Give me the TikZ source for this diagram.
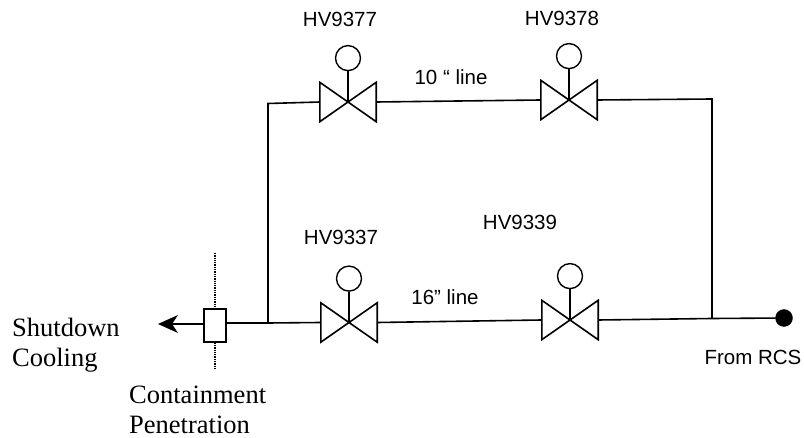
\documentclass[tikz,border=0pt]{standalone}
\usepackage{fontspec}
\setmainfont{Liberation Serif}
\setsansfont{Liberation Sans}
\usetikzlibrary{arrows.meta,positioning,calc}
\begin{document}
\begin{tikzpicture}[x=1pt, y=-1pt, node distance=11pt and 5pt, >={Stealth[length=20pt,width=18pt,inset=6pt]},
		valve/.style={draw=none, rectangle, minimum width=56pt, minimum height=39pt, inner sep=0pt},
		head/.style={draw=black, circle, line width=1.4pt, minimum size=25pt, inner sep=0pt},
		tag/.style={draw=none, inner sep=0pt, font=\sffamily\fontsize{20.5}{22}\selectfont},
		sname/.style={draw=none, inner sep=0pt, align=left, font=\fontsize{26.5}{30}\selectfont},
		pipe/.style={line width=1.6pt, color=black}
		]
		\useasboundingbox (0,0) rectangle (804,438);
		
		\node[valve](v1) at (348,102) {};
		\node[valve](v2) at (569,100) {};
		\node[valve](v3) at (349,322.5) {};
		\node[valve](v4) at (570,320) {};
		
		\node[head](c1) [above=of v1] {};
		\node[head](c2) [above=of v2] {};
		\node[head](c3) [above=of v3] {};
		\node[head](c4) [above=of v4] {};
		
		\node[tag](t1) at (340,19) {HV9377};
		\node[tag](t2) at (562,18) {HV9378};
		\node[tag](t3) at (341,237) {HV9337};
		\node[tag](t4) at (520,222) {HV9339};
		\node[tag](l1) at (451,77) {10 “ line};
		\node[tag](l2) at (445,297) {16” line};
		\node[tag](rcs) at (753,357) {From RCS};
		
		\node[draw=black, rectangle, line width=1.4pt, minimum width=22pt, minimum height=33pt, inner sep=0pt](pen) at (215,325.5) {};
		\node[draw=black, fill=black, circle, minimum size=17pt, inner sep=0pt](src) at (784,318) {};
		\node[sname, anchor=west](out) at (12,345) {Shutdown\\Cooling};
		\node[sname, anchor=west](cp) at (129,410) {Containment\\Penetration};
		
		\coordinate (jl) at (268,323);
		\coordinate (tl) at (268,103.5);
		\coordinate (jr) at (712,318.5);
		\coordinate (tr) at (712,99);
		\coordinate (tip) at (158,324);
		\coordinate (dtop) at (215,253);
		\coordinate (dbot) at (215,370);
		
		% valve bodies and stems
		\foreach \v/\c in {v1/c1,v2/c2,v3/c3,v4/c4}{
			\draw [line width=1.6pt, line join=miter] (\v.south west) -- (\v.north east) -- (\v.south east) -- (\v.north west) -- cycle;
			\draw [pipe] (\v.center) -- (\c.south);
		}
		
		\draw [pipe] (v1.west) -- (tl) -- (jl);
		\draw [pipe] (v1.east) -- (v2.west);
		\draw [pipe] (v2.east) -- (tr) -- (jr);
		\draw [pipe] (pen.east |- jl) -- (jl) -- (v3.west);
		\draw [pipe] (v3.east) -- (v4.west);
		\draw [pipe] (v4.east) -- (jr) -- (src);
		\draw [pipe, ->] (pen.west |- tip) -- (tip);
		\draw [line width=1.3pt, densely dotted] (dtop) -- (pen.north);
		\draw [line width=1.3pt, densely dotted] (pen.south) -- (dbot);
\end{tikzpicture}
\end{document}
